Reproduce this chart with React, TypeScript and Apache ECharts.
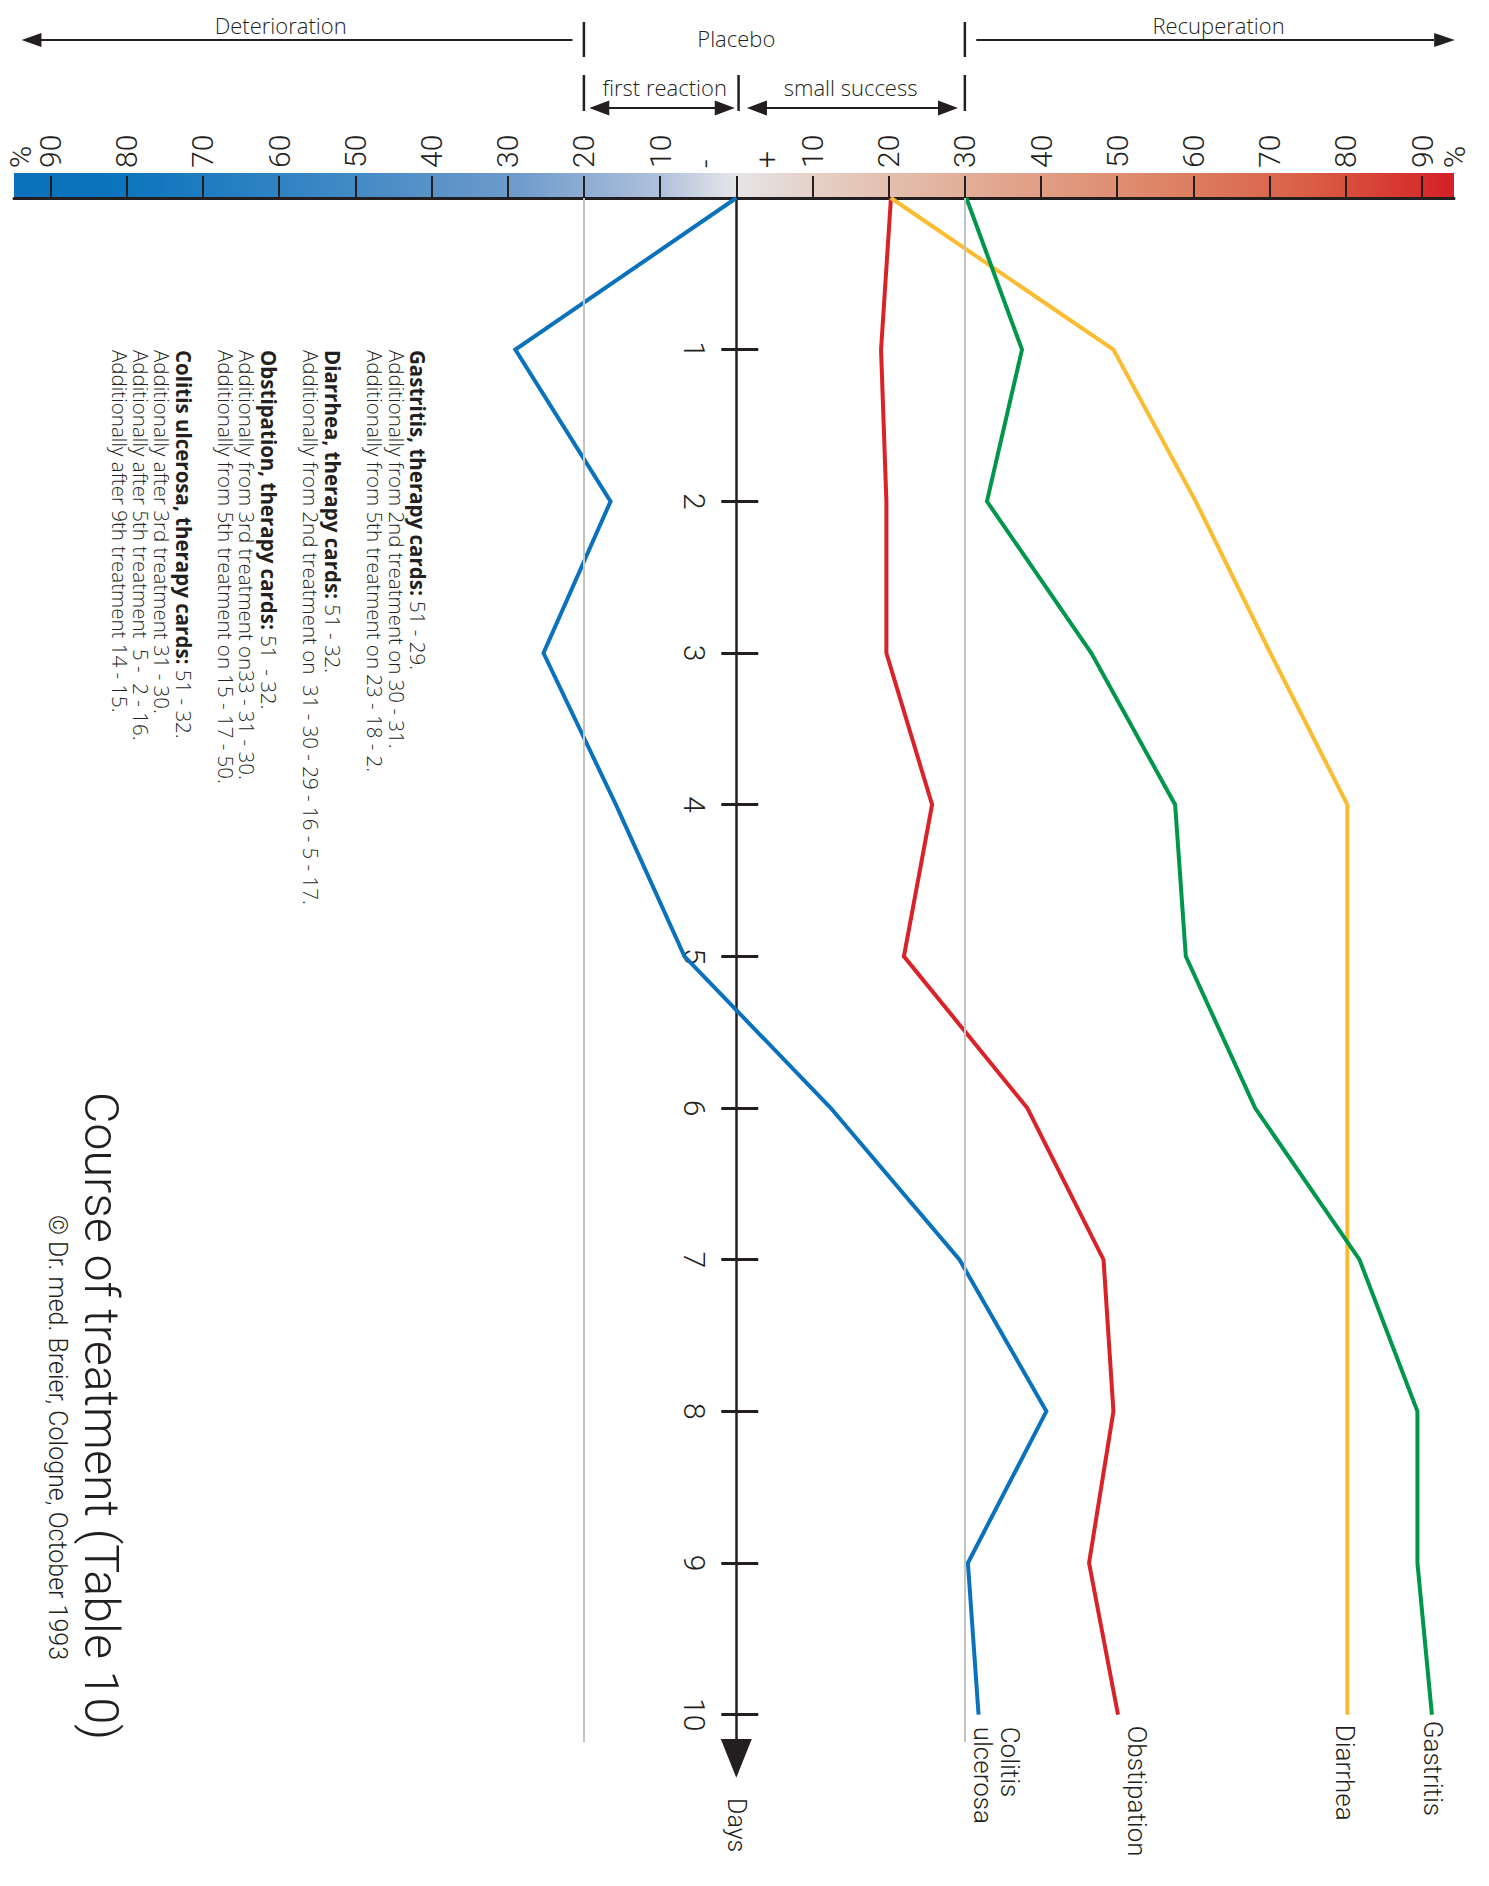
import React, { useEffect, useRef } from 'react';
import * as echarts from 'echarts';

// ---------- data ----------
const DAYS = [0, 1, 2, 3, 4, 5, 6, 7, 8, 9, 10];
const COLITIS = [0, -29.0, -16.5, -25.3, -15.8, -6.8, 12.4, 29.3, 40.7, 30.4, 31.8];
const OBSTIPATION = [20.3, 19.0, 19.7, 19.7, 25.7, 22.0, 38.2, 48.2, 49.5, 46.3, 50.1];
const DIARRHEA = [20.3, 49.5, 60.3, 70.1, 80.2, 80.2, 80.2, 80.2, 80.2, 80.2, 80.2];
const GASTRITIS = [30.2, 37.5, 32.9, 46.6, 57.6, 59.0, 68.1, 81.8, 89.4, 89.4, 91.3];

const SERIES_NAMES = ['Colitis ulcerosa', 'Obstipation', 'Diarrhea', 'Gastritis'];
const SERIES_END_LABELS = ['Colitis\nulcerosa', 'Obstipation', 'Diarrhea', 'Gastritis'];

const SCALE_TICKS = [-90, -80, -70, -60, -50, -40, -30, -20, -10, 0, 10, 20, 30, 40, 50, 60, 70, 80, 90];
const SCALE_LABEL_VALUES = [-94.0, -90, -80, -70, -60, -50, -40, -30, -20, -10, -4, 4, 10, 20, 30, 40, 50, 60, 70, 80, 90, 94.2];
const SCALE_LABEL_TEXTS = ['%', '90', '80', '70', '60', '50', '40', '30', '20', '10', '-', '+', '10', '20', '30', '40', '50', '60', '70', '80', '90', '%'];
const DAY_TICKS = [1, 2, 3, 4, 5, 6, 7, 8, 9, 10];
const REFERENCE_LINES = [-20, 30];

const NOTES = [
  '{b|Gastritis, therapy cards:} 51 - 29.',
  'Additionally from 2nd treatment on 30 - 31.',
  'Additionally from 5th treatment on 23 - 18 - 2.',
  ' ',
  '{b|Diarrhea, therapy cards:} 51 - 32.',
  'Additionally from 2nd treatment on  31 - 30 - 29 - 16 - 5 - 17.',
  ' ',
  '{b|Obstipation, therapy cards:} 51  - 32.',
  'Additionally from 3rd treatment on33 - 31 - 30.',
  'Additionally from 5th treatment on 15 - 17 - 50.',
  ' ',
  '{b|Colitis ulcerosa, therapy cards:} 51 - 32.',
  'Additionally after 3rd treatment 31 - 30.',
  'Additionally after 5th treatment  5 -  2 - 16.',
  'Additionally after 9th treatment 14 - 15.',
];

const TITLE = 'Course of treatment (Table 10)';
const SUBTITLE = '\u00A9 Dr. med. Breier, Cologne, October 1993';

// ---------- style ----------
const FONT = "Roboto, 'Liberation Sans', Arial, sans-serif";
const FONT2 = "'Open Sans', Roboto, 'Liberation Sans', Arial, sans-serif";
const DARK = '#231f20';
const COLORS = ['#0a72bd', '#da2229', '#fcbc31', '#00964c'];
const X_MIN = -94.8;
const X_MAX = 94.2;
const Y_MAX = 10.18;
const GRID = { left: 14, right: 35, top: 198, bottom: 144 };

export default function App() {
  const ref = useRef<HTMLDivElement>(null);

  useEffect(() => {
    if (!ref.current) return;
    const chart = echarts.init(ref.current, null, { renderer: 'svg' });
    const seriesValues = [COLITIS, OBSTIPATION, DIARRHEA, GASTRITIS];

    const labelFor = (v: number) => {
      const i = SCALE_LABEL_VALUES.findIndex((x) => Math.abs(x - v) < 1e-6);
      return i >= 0 ? SCALE_LABEL_TEXTS[i] : '';
    };

    chart.setOption({
      animation: false,
      backgroundColor: '#ffffff',
      grid: { ...GRID, containLabel: false, outerBoundsMode: 'none' },
      xAxis: {
        type: 'value',
        position: 'top',
        min: X_MIN,
        max: X_MAX,
        splitLine: { show: false },
        axisLine: { show: true, onZero: false, lineStyle: { color: DARK, width: 3 } },
        axisTick: {
          show: true,
          inside: false,
          length: 22,
          customValues: SCALE_TICKS,
          lineStyle: { color: DARK, width: 2 },
        },
        axisLabel: {
          show: true,
          customValues: SCALE_LABEL_VALUES,
          formatter: (v: number) => labelFor(v),
          rotate: -90,
          margin: 30,
          fontSize: 30,
          fontFamily: FONT,
          fontWeight: 300,
          color: DARK,
          hideOverlap: false,
        },
      },
      yAxis: [
        {
          type: 'value',
          position: 'left',
          inverse: true,
          min: 0,
          max: Y_MAX,
          splitLine: { show: false },
          axisLine: { show: true, onZero: false, lineStyle: { color: DARK, width: 2.5 } },
          axisTick: { show: true, length: 15, customValues: DAY_TICKS, lineStyle: { color: DARK, width: 3 } },
          axisLabel: {
            show: true,
            customValues: DAY_TICKS,
            rotate: -90,
            margin: 27,
            fontSize: 30,
            fontFamily: FONT,
            fontWeight: 300,
            color: DARK,
          },
        },
        {
          type: 'value',
          position: 'right',
          inverse: true,
          min: 0,
          max: Y_MAX,
          splitLine: { show: false },
          axisLine: { show: false, onZero: false },
          axisTick: { show: true, length: 22, customValues: DAY_TICKS, lineStyle: { color: DARK, width: 3 } },
          axisLabel: { show: false },
        },
      ],
      series: [
        {
          type: 'line',
          name: 'reference',
          data: [],
          silent: true,
          z: 1,
          markLine: {
            silent: true,
            symbol: 'none',
            label: { show: false },
            lineStyle: { color: '#c2c2c2', width: 2, type: 'solid' },
            data: REFERENCE_LINES.map((v) => ({ xAxis: v })),
          },
        },
        ...SERIES_NAMES.map((name, i) => ({
          type: 'line',
          name,
          data: seriesValues[i].map((v, j) => [v, DAYS[j]]),
          showSymbol: false,
          symbol: 'none',
          z: 3,
          lineStyle: { color: COLORS[i], width: 4, join: 'miter' },
          itemStyle: { color: COLORS[i] },
        })),
      ],
    });

    const px = (v: number) => chart.convertToPixel({ xAxisIndex: 0 }, v) as number;
    const py = (d: number) => chart.convertToPixel({ yAxisIndex: 0 }, d) as number;

    // place the day axis on the zero line of the percent scale
    const x0 = px(0);
    const W = 1489;
    chart.setOption({
      yAxis: [
        { offset: GRID.left - x0 },
        { offset: x0 - (W - GRID.right) },
      ],
    });

    const g: any[] = [];
    const txt = (x: number, y: number, s: string, size: number, extra: any = {}, rot = 0) => ({
      type: 'text',
      x,
      y,
      rotation: rot,
      z: 20,
      style: {
        text: s,
        fontSize: size,
        fontFamily: FONT,
        fontWeight: 300,
        fill: DARK,
        align: 'center',
        verticalAlign: 'middle',
        textAlign: 'center',
        textVerticalAlign: 'middle',
        ...extra,
      },
    });
    const ln = (x1: number, y1: number, x2: number, y2: number, w = 2) => ({
      type: 'line',
      z: 20,
      shape: { x1, y1, x2, y2 },
      style: { stroke: DARK, lineWidth: w },
    });
    const tri = (pts: number[][]) => ({ type: 'polygon', z: 20, shape: { points: pts }, style: { fill: DARK } });

    // colour bar
    const top0 = py(0);
    g.push({
      type: 'rect',
      z: -10,
      shape: { x: px(X_MIN), y: top0 - 25, width: px(X_MAX) - px(X_MIN), height: 24 },
      style: {
        fill: new echarts.graphic.LinearGradient(0, 0, 1, 0, [
          { offset: 0, color: '#0a70bb' },
          { offset: 0.07, color: '#0b74bd' },
          { offset: 0.2, color: '#3585c3' },
          { offset: 0.35, color: '#6f9bcc' },
          { offset: 0.45, color: '#b1c1dc' },
          { offset: 0.5, color: '#e5e5e8' },
          { offset: 0.56, color: '#e5cfc5' },
          { offset: 0.66, color: '#e2ae98' },
          { offset: 0.78, color: '#de8a6d' },
          { offset: 0.9, color: '#da5e44' },
          { offset: 1, color: '#d42027' },
        ]),
      },
    });

    // top annotations
    const ann = { fontFamily: FONT2, fontSize: 22 };
    const yA = 40;
    g.push(txt(px(-59.8), 25, 'Deterioration', 22, ann));
    g.push(txt(px(0), 38, 'Placebo', 22, ann));
    g.push(txt(px(63.3), 25, 'Recuperation', 22, ann));
    g.push(txt(px(-9.4), 87, 'first reaction', 22, ann));
    g.push(txt(px(15.0), 87, 'small success', 22, ann));

    g.push(ln(px(-91.5), yA, px(-21.5), yA));
    g.push(tri([[px(-93.8), yA], [px(-91.2), yA - 7], [px(-91.2), yA + 7]]));
    g.push(ln(px(31.5), yA, px(91.6), yA));
    g.push(tri([[px(94.3), yA], [px(91.6), yA - 7], [px(91.6), yA + 7]]));

    g.push(ln(px(-20), 22, px(-20), 57, 2.5));
    g.push(ln(px(30), 22, px(30), 57, 2.5));
    g.push(ln(px(-20), 75, px(-20), 111, 2.5));
    g.push(ln(px(0.3), 75, px(0.3), 111, 2.5));
    g.push(ln(px(30), 75, px(30), 111, 2.5));

    const yB = 108;
    const dbl = (a: number, b: number) => {
      const xa = px(a);
      const xb = px(b);
      g.push(ln(xa + 18, yB, xb - 18, yB));
      g.push(tri([[xa, yB], [xa + 20, yB - 7.5], [xa + 20, yB + 7.5]]));
      g.push(tri([[xb, yB], [xb - 20, yB - 7.5], [xb - 20, yB + 7.5]]));
    };
    dbl(-19.3, -0.2);
    dbl(1.4, 29.1);

    // days arrow
    g.push(tri([[x0 - 15.5, py(10.16)], [x0 + 15.5, py(10.16)], [x0, py(10.415)]]));
    g.push(txt(x0, py(10.55), 'Days', 25, { align: 'left', textAlign: 'left' }, -Math.PI / 2));

    // end labels
    const offsets = [
      [18, 12],
      [19, 11],
      [-2, 10],
      [1, 6],
    ];
    seriesValues.forEach((vals, i) => {
      const last = vals.length - 1;
      g.push(
        txt(px(vals[last]) + offsets[i][0], py(DAYS[last]) + offsets[i][1], SERIES_END_LABELS[i], 26,
          { align: 'left', textAlign: 'left', lineHeight: 27 }, -Math.PI / 2)
      );
    });

    // notes block
    g.push({
      type: 'text',
      x: 428.5,
      y: 350,
      rotation: -Math.PI / 2,
      z: 20,
      style: {
        text: NOTES.join('\n'),
        fontSize: 20.5,
        fontFamily: FONT2,
        fontWeight: 300,
        fill: DARK,
        lineHeight: 21.3,
        align: 'left',
        verticalAlign: 'top',
        textAlign: 'left',
        textVerticalAlign: 'top',
        rich: {
          b: { fontSize: 20.5, fontFamily: FONT2, fontWeight: 'bold', fill: DARK, lineHeight: 21.3 },
        },
      },
    });

    // title
    g.push(txt(101, 1092, TITLE, 48.3, { align: 'left', textAlign: 'left' }, -Math.PI / 2));
    g.push(txt(57, 1215, SUBTITLE, 25, { align: 'left', textAlign: 'left' }, -Math.PI / 2));

    chart.setOption({ graphic: g });

    return () => chart.dispose();
  }, []);

  return (
    <div
      ref={ref}
      style={{ position: 'absolute', left: 0, top: 0, width: 1489, height: 1886, background: '#ffffff' }}
    />
  );
}
